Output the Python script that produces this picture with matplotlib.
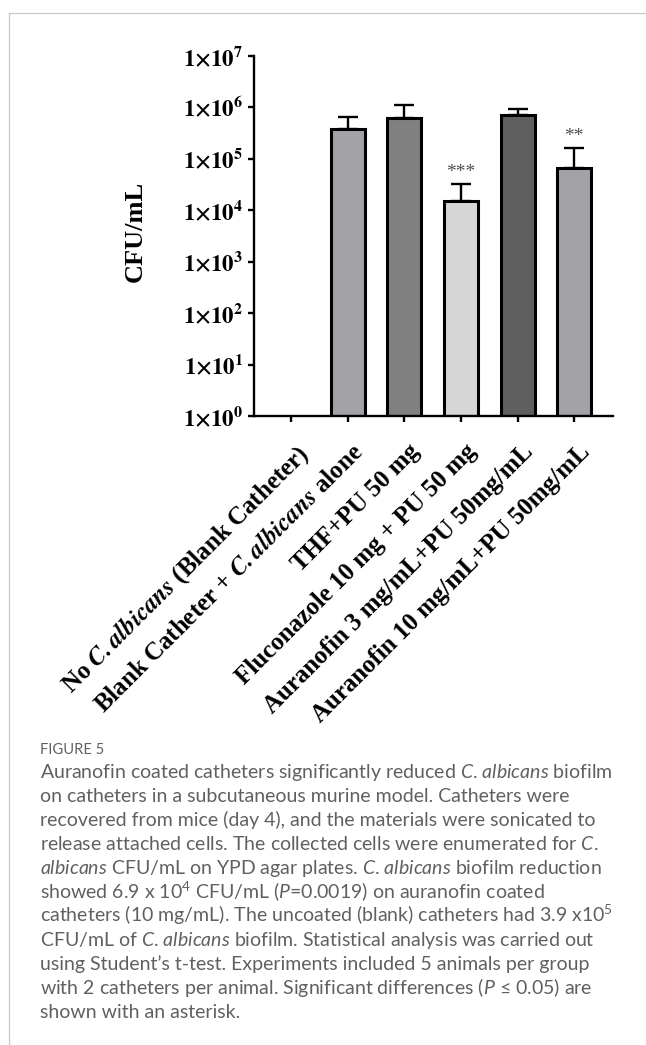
import numpy as np
import matplotlib
matplotlib.use('Agg')
import matplotlib.pyplot as plt
from matplotlib import font_manager
from matplotlib.ticker import NullLocator
from matplotlib.transforms import blended_transform_factory, ScaledTranslation
from matplotlib.lines import Line2D

# ---------------- data ----------------
categories = [r'No $\mathbfit{C.albicans}$ (Blank Catheter)',
              r'Blank Catheter + $\mathbfit{C.albicans}$ alone',
              'THF+PU 50 mg',
              'Fluconazole 10 mg + PU 50 mg',
              'Auranofin 3 mg/mL+PU 50mg/mL',
              'Auranofin 10 mg/mL+PU 50mg/mL']
cfu_mean = [0, 3.8e5, 6.3e5, 1.5e4, 7.2e5, 6.5e4]
cfu_sd = [0, 2.6e5, 4.7e5, 1.8e4, 2.1e5, 1.0e5]
significance = ['', '', '', '***', '', '**']
bar_colors = ['#a3a3a7', '#a3a3a7', '#808080', '#d6d6d6', '#5f5f5f', '#a3a3a7']
ytick_exponents = [0, 1, 2, 3, 4, 5, 6, 7]
ylabel = 'CFU/mL'

caption_title = 'FIGURE 5'
caption_lines = [
    r'Auranofin coated catheters significantly reduced $\mathit{C}$. $\mathit{albicans}$ biofilm',
    'on catheters in a subcutaneous murine model. Catheters were',
    'recovered from mice (day 4), and the materials were sonicated to',
    r'release attached cells. The collected cells were enumerated for $\mathit{C}$.',
    r'$\mathit{albicans}$ CFU/mL on YPD agar plates. $\mathit{C}$. $\mathit{albicans}$ biofilm reduction',
    r'showed 6.9 x 10$^{4}$ CFU/mL ($\mathit{P}$=0.0019) on auranofin coated',
    r'catheters (10 mg/mL). The uncoated (blank) catheters had 3.9 x10$^{5}$',
    r'CFU/mL of $\mathit{C}$. $\mathit{albicans}$ biofilm. Statistical analysis was carried out',
    'using Student’s t-test. Experiments included 5 animals per group',
    r'with 2 catheters per animal. Significant differences ($\mathit{P}$ ≤ 0.05) are',
    'shown with an asterisk.',
]
caption_target_widths = [570, 530, 556, 559, 563, 498, 564, 549, 546, 545, 195]
caption_title_width = 64

# ---------------- fonts ----------------
names = {f.name for f in font_manager.fontManager.ttflist}
cap_font = 'Liberation Sans Narrow' if 'Liberation Sans Narrow' in names else 'Lato'
plt.rcParams['mathtext.fontset'] = 'custom'
plt.rcParams['mathtext.rm'] = cap_font
plt.rcParams['mathtext.it'] = cap_font + ':italic'
plt.rcParams['mathtext.bf'] = cap_font + ':bold'

W, H = 646, 1045
fig = plt.figure(figsize=(W / 100, H / 100), dpi=100)

def fx(px):
    return px / W

def fy(py):
    return 1 - py / H

ax = fig.add_axes([fx(254), fy(416), fx(613.3) - fx(254), fy(56) - fy(416)])

x = np.arange(len(categories))
mean = np.array(cfu_mean, dtype=float)
sd = np.array(cfu_sd, dtype=float)
mask = mean > 0

ax.set_yscale('log')
ax.errorbar(x[mask], mean[mask], yerr=[np.zeros(mask.sum()), sd[mask]], fmt='none',
            ecolor='black', elinewidth=1.7, capsize=7, capthick=1.7, zorder=1)
ax.bar(x[mask], mean[mask] - 1, bottom=1, width=0.6,
       color=[c for c, m in zip(bar_colors, mask) if m],
       edgecolor='black', linewidth=2.2, zorder=2)

for i in range(len(categories)):
    if significance[i]:
        ax.annotate(significance[i], xy=(x[i], mean[i] + sd[i]), xytext=(0, 5),
                    textcoords='offset points', ha='center', va='baseline',
                    fontsize=14, color='#505050', family='Liberation Serif')

ax.set_ylim(1, 1e7)
ax.set_xlim(-0.65, 5.69)
for s in ['top', 'right']:
    ax.spines[s].set_visible(False)
for s in ['left', 'bottom']:
    ax.spines[s].set_linewidth(1.7)

ax.yaxis.set_minor_locator(NullLocator())
ax.set_yticks([10.0 ** e for e in ytick_exponents],
              labels=[r'$\mathbf{1{\times}10^{%d}}$' % e for e in ytick_exponents])
for lab in ax.get_yticklabels():
    lab.set_math_fontfamily('stix')
    lab.set_fontsize(16.5)
ax.tick_params(axis='y', direction='out', length=4.5, width=1.7, pad=3)
ax.set_xticks(x)
ax.tick_params(axis='x', direction='out', length=4.5, width=1.7, labelbottom=False)

lab_trans = blended_transform_factory(ax.transData, ax.transAxes) + \
    ScaledTranslation(4 / 100, -24 / 100, fig.dpi_scale_trans)
for i, c in enumerate(categories):
    ax.text(x[i], 0, c, transform=lab_trans, rotation=45, rotation_mode='anchor',
            ha='right', va='top', fontsize=18, fontweight='bold',
            family='Liberation Serif', math_fontfamily='stix')

fig.text(fx(135), fy(231), ylabel, rotation=90, ha='center', va='center',
         fontsize=19, fontweight='bold', family='Liberation Serif')

# frame lines
fig.add_artist(Line2D([fx(9), 1], [fy(13.3), fy(13.3)], transform=fig.transFigure,
                      color='#c8c8c8', lw=0.9))
fig.add_artist(Line2D([fx(9), fx(9)], [0, fy(13.3)], transform=fig.transFigure,
                      color='#c8c8c8', lw=0.9))

# caption
cap_color = '#606060'
renderer = fig.canvas.get_renderer()
base_size = 12
cap_left = 39.5
cap_texts = []
for k, line in enumerate(caption_lines):
    t = fig.text(fx(cap_left), fy(777.7 + 24.07 * k), line, ha='left', va='baseline',
                 fontsize=base_size, family=cap_font, color=cap_color)
    cap_texts.append(t)
ratios = []
for t, tw in zip(cap_texts[:-1], caption_target_widths[:-1]):
    ratios.append(tw / t.get_window_extent(renderer).width)
size = base_size * float(np.median(ratios))
for t in cap_texts:
    t.set_fontsize(size)
title = fig.text(fx(cap_left), fy(754), caption_title, ha='left', va='baseline',
                 fontsize=base_size, family=cap_font, color=cap_color)
title.set_fontsize(base_size * caption_title_width / title.get_window_extent(renderer).width)

fig.savefig('out.png', dpi=100)
